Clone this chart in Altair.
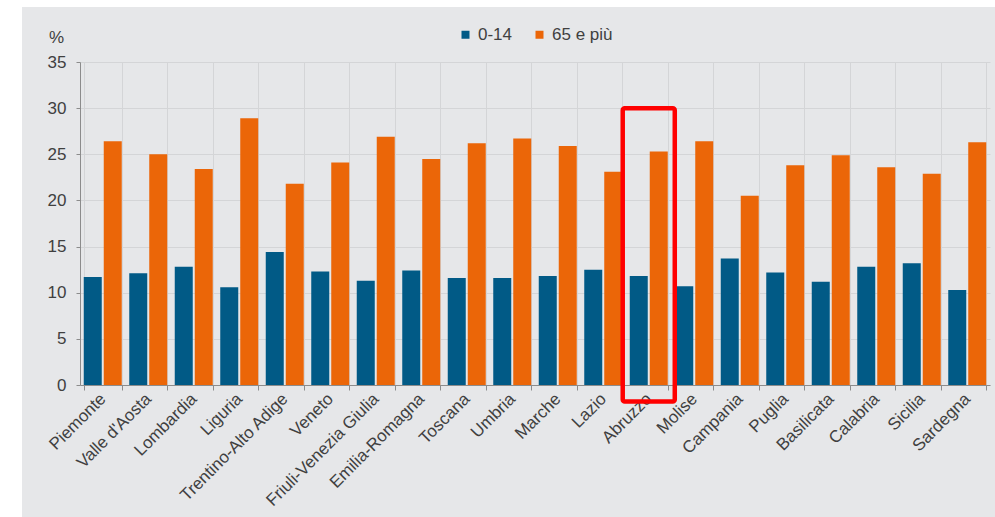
import altair as alt
import pandas as pd

regions = ["Piemonte", "Valle d'Aosta", "Lombardia", "Liguria", "Trentino-Alto Adige",
           "Veneto", "Friuli-Venezia Giulia", "Emilia-Romagna", "Toscana", "Umbria",
           "Marche", "Lazio", "Abruzzo", "Molise", "Campania", "Puglia", "Basilicata",
           "Calabria", "Sicilia", "Sardegna"]
young = [11.7, 12.1, 12.8, 10.6, 14.4, 12.3, 11.3, 12.4, 11.6, 11.6,
         11.8, 12.5, 11.8, 10.7, 13.7, 12.2, 11.2, 12.8, 13.2, 10.3]
old = [26.4, 25.0, 23.4, 28.9, 21.8, 24.1, 26.9, 24.5, 26.2, 26.7,
       25.9, 23.1, 25.3, 26.4, 20.5, 23.8, 24.9, 23.6, 22.9, 26.3]
series = ["0-14", "65 e più"]
colors = ["#015a86", "#eb6608"]
y_ticks = [0, 5, 10, 15, 20, 25, 30, 35]

highlight_region = ["Abruzzo"]
highlight_top = [30.0]
highlight_bottom = [-1.8]

rows = []
for r, a, b in zip(regions, young, old):
    rows.append({"regione": r, "serie": series[0], "valore": a})
    rows.append({"regione": r, "serie": series[1], "valore": b})
df = pd.DataFrame(rows)
hl = pd.DataFrame({"regione": highlight_region, "top": highlight_top, "bottom": highlight_bottom})
one = pd.DataFrame({"k": [0]})

FONT = "Liberation Sans"
TXT = "#404040"
GRID = "#d4d5d7"
AX = "#8c8c8c"
BG = "#e6e7e9"
FS = 17

x_scale = alt.Scale(domain=regions, paddingInner=0.165, paddingOuter=0.0825)
y_scale = alt.Scale(domain=[0, 35], nice=False)

bars = alt.Chart(df).mark_bar().encode(
    x=alt.X("regione:N", sort=regions, scale=x_scale,
            axis=alt.Axis(title=None, labelAngle=-45, labelAlign="right",
                          labelBaseline="middle", labelFontSize=FS, labelColor=TXT,
                          labelPadding=6, tickBand="extent", tickSize=5,
                          tickColor=AX, domainColor=AX, grid=True, gridColor=GRID,
                          labelFont=FONT)),
    xOffset=alt.XOffset("serie:N", sort=series,
                        scale=alt.Scale(paddingInner=0.1, paddingOuter=0)),
    y=alt.Y("valore:Q", scale=y_scale,
            axis=alt.Axis(values=y_ticks, title="%", titleAngle=0, titleX=-24, titleY=-25,
                          titleAlign="center", titleBaseline="middle",
                          titleFontWeight="normal", titleFontSize=FS, titleColor=TXT,
                          labelFontSize=FS, labelColor=TXT, labelPadding=10, tickSize=4,
                          tickColor=AX, domainColor=AX, gridColor=GRID,
                          labelFont=FONT, titleFont=FONT)),
    color=alt.Color("serie:N", sort=series,
                    scale=alt.Scale(domain=series, range=colors),
                    legend=alt.Legend(title=None, orient="none", legendX=377, legendY=-36,
                                      direction="horizontal", symbolType="square",
                                      symbolSize=64, labelFontSize=FS, labelColor=TXT,
                                      columnPadding=18, labelOffset=4, padding=0,
                                      symbolStrokeWidth=0, labelFont=FONT)),
)

box = alt.Chart(hl).mark_bar(
    fill="red", fillOpacity=0, stroke="#ff0000", strokeWidth=4.5,
    width={"band": 1.37}, cornerRadius=2
).encode(
    x=alt.X("regione:N", sort=regions, scale=x_scale),
    y=alt.Y("top:Q", scale=y_scale),
    y2="bottom:Q",
)

left_strip = alt.Chart(one).mark_rect(fill="white").encode(
    x=alt.value(-80), x2=alt.value(-58), y=alt.value(-62), y2=alt.value(455))
top_strip = alt.Chart(one).mark_rect(fill="white").encode(
    x=alt.value(-80), x2=alt.value(915), y=alt.value(-62), y2=alt.value(-55))

chart = alt.layer(bars, box, left_strip, top_strip).properties(
    width=910, height=323,
    autosize=alt.AutoSizeParams(type="none"),
    padding={"left": 80, "top": 62, "right": 5, "bottom": 132},
    background=BG,
).configure(font=FONT).configure_view(stroke=None)

chart.save("out.html", embed_options={"renderer": "svg", "actions": False})
